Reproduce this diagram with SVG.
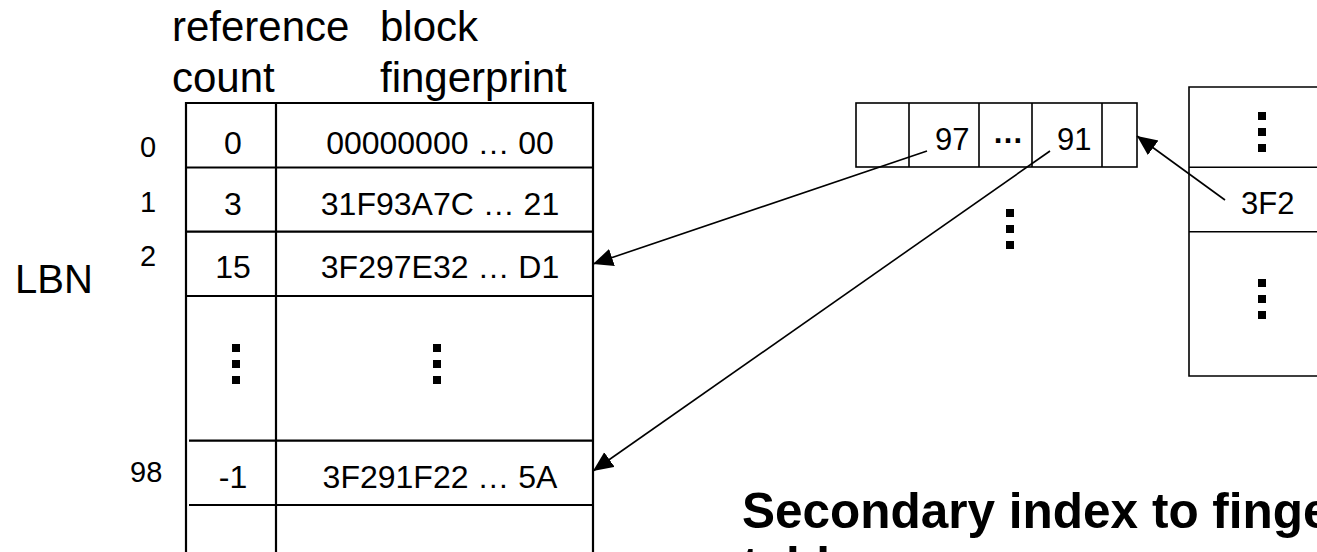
<svg xmlns="http://www.w3.org/2000/svg" width="1317" height="552" viewBox="0 0 1317 552">
  <style>
    text { font-family: "Liberation Sans", Arial, sans-serif; fill: #000; }
    .hdr { font-size: 42px; }
    .lbn { font-size: 29px; }
    .cell { font-size: 32px; text-anchor: middle; }
    .cellR { font-size: 31px; }
    .title { font-size: 49.5px; font-weight: bold; }
    .grid { fill: none; stroke: #000; stroke-width: 2.2; }
    .thin { fill: none; stroke: #000; stroke-width: 1.6; }
    .dot { fill: #000; }
    .conn { fill: none; stroke: #000; stroke-width: 1.6; }
  </style>
  <defs>
    <marker id="arrow" markerUnits="userSpaceOnUse" markerWidth="22" markerHeight="20" refX="20" refY="9" orient="auto">
      <path d="M0,0 L20,9 L0,18 Z" fill="#000"/>
    </marker>
    <!-- three-square vertical ellipsis -->
    <g id="vdots">
      <rect x="-4" y="-20" width="8" height="8"/>
      <rect x="-4" y="-4" width="8" height="8"/>
      <rect x="-4" y="12" width="8" height="8"/>
    </g>
  </defs>

  <rect width="1317" height="552" fill="#fff"/>

  <!-- column headers -->
  <g id="headers">
    <text class="hdr" x="172" y="41">reference</text>
    <text class="hdr" x="172" y="92">count</text>
    <text class="hdr" x="380" y="41">block</text>
    <text class="hdr" x="380" y="92">fingerprint</text>
  </g>

  <!-- logical block numbers -->
  <g id="lbn-labels">
    <text class="hdr" x="15" y="293" style="font-size:40px">LBN</text>
    <text class="lbn" x="140" y="157">0</text>
    <text class="lbn" x="140" y="212">1</text>
    <text class="lbn" x="140" y="266">2</text>
    <text class="lbn" x="130" y="482">98</text>
  </g>

  <!-- fingerprint table -->
  <g id="fingerprint-table">
    <path class="grid" d="M186,560 V103 H593 V560 M276,103 V560"/>
    <path class="grid" d="M186,167.5 H593 M186,231.7 H593 M186,296 H593 M189,440.7 H593 M189,505 H593"/>
    <text class="cell" x="233" y="154">0</text>
    <text class="cell" x="440" y="154">00000000 … 00</text>
    <text class="cell" x="233" y="215">3</text>
    <text class="cell" x="440" y="215">31F93A7C … 21</text>
    <text class="cell" x="233" y="278">15</text>
    <text class="cell" x="440" y="278">3F297E32 … D1</text>
    <use href="#vdots" x="236" y="364" class="dot"/>
    <use href="#vdots" x="437" y="364" class="dot"/>
    <text class="cell" x="233" y="488">-1</text>
    <text class="cell" x="440" y="488">3F291F22 … 5A</text>
  </g>

  <!-- index bucket array -->
  <g id="index-array">
    <rect class="thin" x="856" y="103" width="281" height="64"/>
    <path class="thin" d="M909,103 V167 M979,103 V167 M1032,103 V167 M1102,103 V167"/>
    <text class="cellR" x="935" y="150">97</text>
    <text class="cellR" x="1008" y="143" text-anchor="middle" font-weight="bold">…</text>
    <text class="cellR" x="1057" y="150">91</text>
    <use href="#vdots" x="1010" y="229" class="dot"/>
  </g>

  <!-- secondary index table -->
  <g id="secondary-index">
    <path class="thin" d="M1330,87 H1189 V376 H1330 M1189,167.3 H1330 M1189,231.7 H1330"/>
    <use href="#vdots" x="1262" y="132" class="dot"/>
    <text class="cellR" x="1241" y="214">3F2</text>
    <use href="#vdots" x="1262" y="299" class="dot"/>
  </g>

  <!-- pointers -->
  <g id="connectors">
    <line class="conn" x1="1225" y1="200" x2="1137" y2="136" marker-end="url(#arrow)"/>
    <line class="conn" x1="927" y1="151" x2="593" y2="264" marker-end="url(#arrow)"/>
    <line class="conn" x1="1050" y1="151" x2="593" y2="471" marker-end="url(#arrow)"/>
  </g>

  <!-- caption -->
  <g id="caption">
    <text class="title" x="742" y="528">Secondary index to fingerprint</text>
    <text class="title" x="742" y="582">table</text>
  </g>
</svg>
